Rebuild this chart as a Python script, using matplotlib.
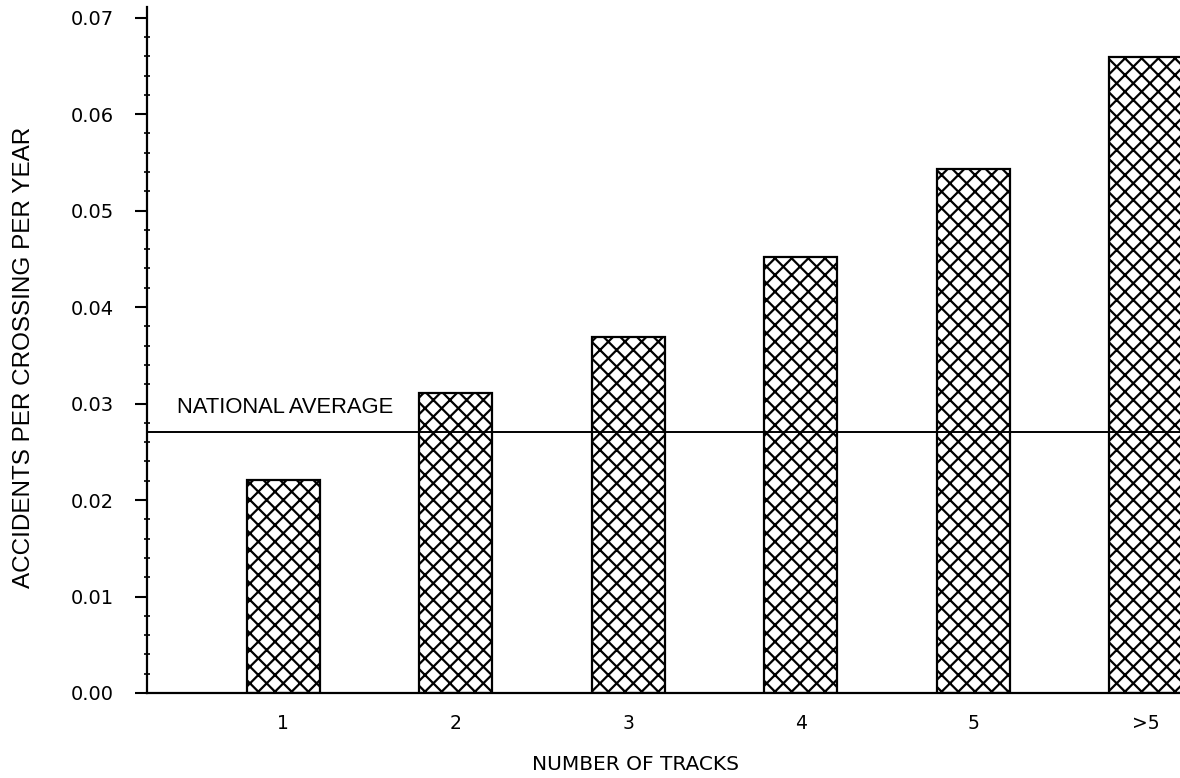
import matplotlib
matplotlib.use("Agg")
import matplotlib.pyplot as plt
from matplotlib.ticker import MultipleLocator

# data
tracks = ["1", "2", "3", "4", "5", ">5"]
accidents = [0.0221, 0.0311, 0.0369, 0.0452, 0.0543, 0.0659]
national_average = 0.0271

plt.rcParams["hatch.linewidth"] = 1.6
plt.rcParams["hatch.color"] = "black"

fig = plt.figure(figsize=(11.8, 7.78), dpi=100)
ax = fig.add_axes([147 / 1180, 85 / 778, 1 - 147 / 1180, (693 - 7) / 778])

positions = list(range(len(tracks)))
ax.bar(positions, accidents, width=0.423, color="white", edgecolor="black",
       linewidth=1.6, hatch="xx", zorder=2)

ax.axhline(national_average, color="black", linewidth=1.4, zorder=3)
ax.text(-0.614, 0.0290, "NATIONAL AVERAGE", fontsize=15.8,
        family="Liberation Sans", va="baseline", ha="left")

ax.set_xlim(-0.788, 5.197)
ax.set_ylim(0, 0.0711)

ax.set_xticks(positions)
ax.set_xticklabels(tracks, fontsize=13.5, family="DejaVu Sans")
ax.tick_params(axis="x", length=0, pad=15)

ax.yaxis.set_major_locator(MultipleLocator(0.01))
ax.yaxis.set_minor_locator(MultipleLocator(0.002))
ax.yaxis.set_major_formatter(plt.FuncFormatter(lambda v, p: f"{v:.2f}"))
ax.tick_params(axis="y", which="major", length=9, width=1.5, pad=15, labelsize=14)
ax.tick_params(axis="y", which="minor", length=5, width=1.2, direction="inout")

for side in ["top", "right"]:
    ax.spines[side].set_visible(False)
for side in ["left", "bottom"]:
    ax.spines[side].set_linewidth(1.6)

fig.text(24 / 1180, 1 - 357 / 778, "ACCIDENTS PER CROSSING PER YEAR",
         rotation=90, fontsize=17.5, family="Liberation Sans",
         ha="center", va="center")
fig.text(635 / 1180, 1 - 765 / 778, "NUMBER OF TRACKS", fontsize=14.5,
         family="DejaVu Sans", ha="center", va="center")

fig.savefig("out.png", dpi=100)
